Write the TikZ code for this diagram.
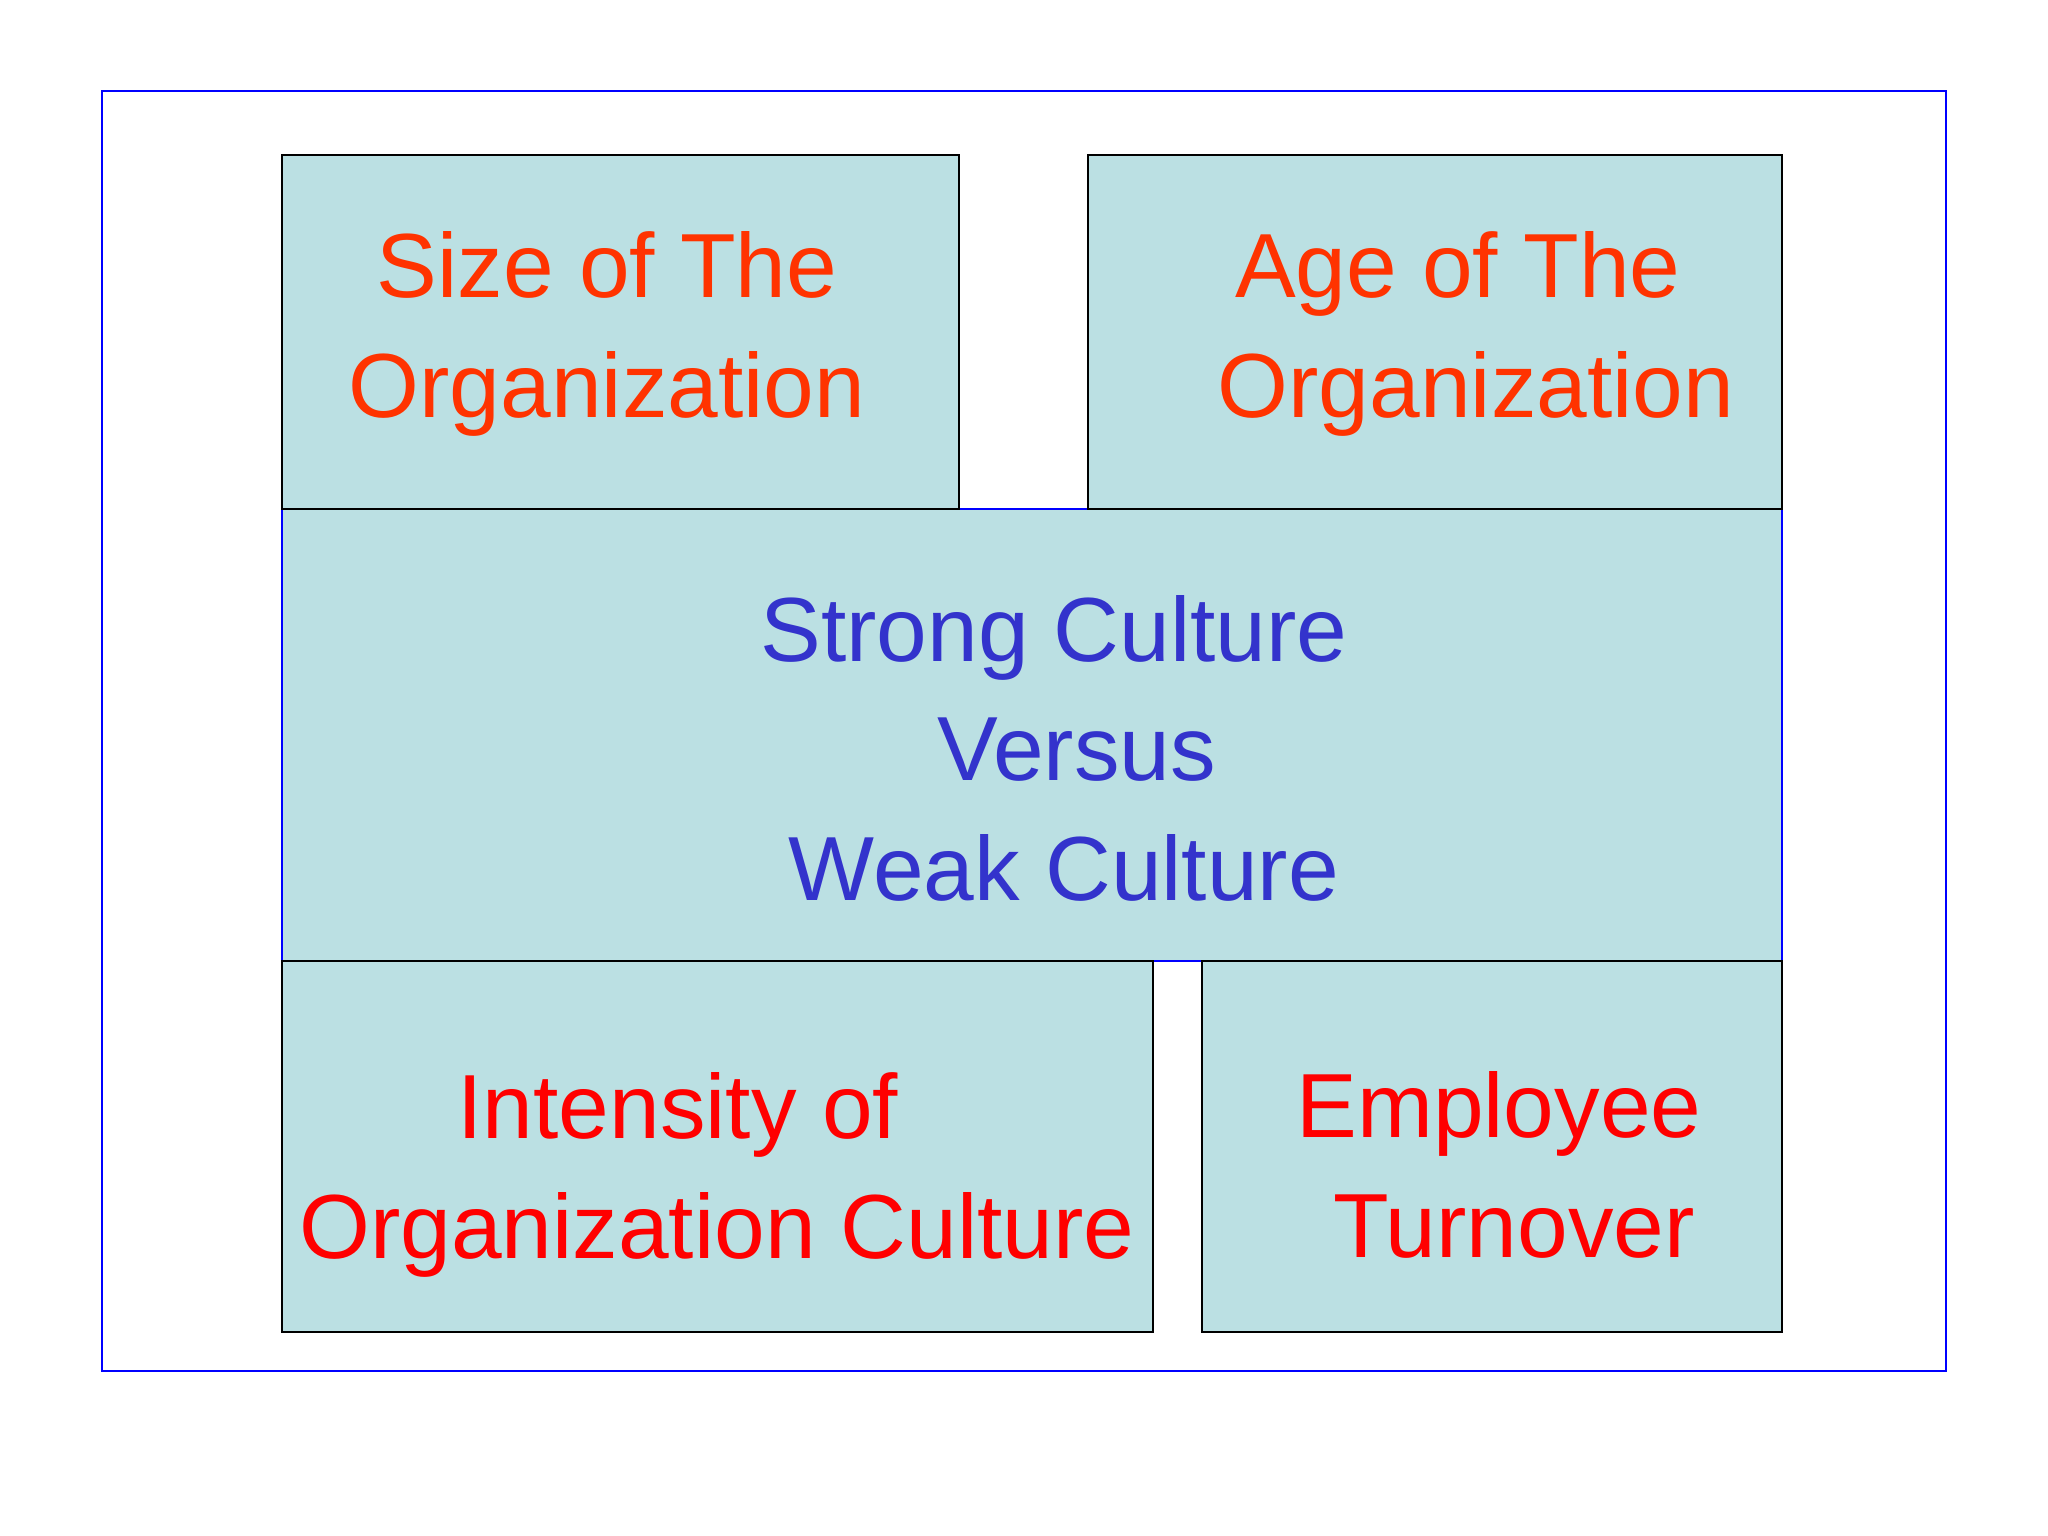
\documentclass[tikz,border=0pt]{standalone}
\usepackage{fontspec}
\setmainfont{Liberation Sans}
\definecolor{boxfill}{HTML}{BBE0E3}
\definecolor{toptext}{HTML}{FF3300}
\definecolor{bottext}{HTML}{FF0000}
\definecolor{midtext}{HTML}{3333CC}
\tikzset{
  factor/.style={draw=black, line width=0.4pt, fill=boxfill},
  label text/.style={align=center, font=\fontsize{25.9}{34}\selectfont, inner sep=0pt}
}
\begin{document}
\begin{tikzpicture}[x=0.01cm, y=-0.01cm]
    \useasboundingbox (0,0) rectangle (2048,1536);
    \draw[blue, line width=0.5pt] (102,91) rectangle (1946,1371);

    \draw[factor, draw=blue] (282,509) rectangle (1782,961);
    \draw[factor] (282,155) rectangle (959,509);
    \draw[factor] (1088,155) rectangle (1782,509);
    \draw[factor] (282,961) rectangle (1153,1332);
    \draw[factor] (1202,961) rectangle (1782,1332);

    \node[label text, text=toptext] (size) at (607,334) {Size of The\\Organization};
    \node[label text, text=toptext] (age) at (1476,334) {Age of The\hspace*{0.4em}\\Organization};
    \node[label text, text=midtext] (culture) at (1054,748) {Strong Culture\\\hspace*{0.5em}Versus\\\hspace*{0.22em}Weak Culture};
    \node[label text, text=bottext] (intensity) at (717,1175) {Intensity of\hspace*{0.86em}\\Organization Culture};
    \node[label text, text=bottext] (turnover) at (1499,1165) {Employee\\\hspace*{0.33em}Turnover};
\end{tikzpicture}
\end{document}
